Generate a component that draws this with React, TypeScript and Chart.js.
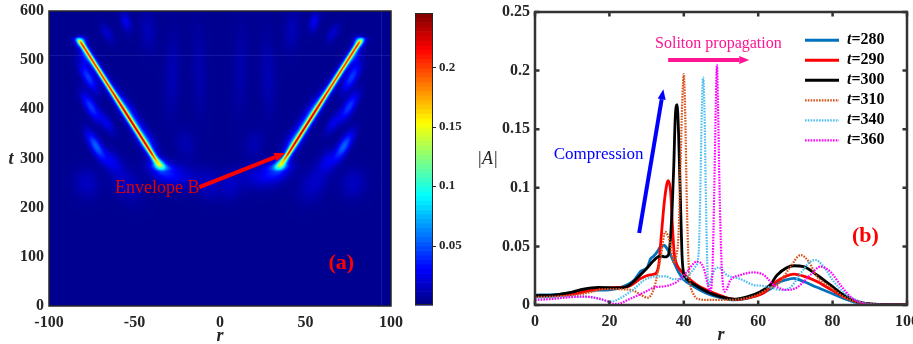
import React, { useEffect, useRef } from "react";
import { Chart, registerables } from "chart.js";

Chart.register(...registerables);

const SERIF = "'Liberation Serif', 'Times New Roman', Times, serif";
const INK = "#262626";

/* ---------------- panel (a): |A|(r, t) map ---------------- */
const MAP_R_TICKS = [-100, -50, 0, 50, 100];
const MAP_T_TICKS = [0, 100, 200, 300, 400, 500, 600];
const CBAR_MAX = 0.2456;
const CBAR_TICKS = [0.05, 0.1, 0.15, 0.2];

const BACKGROUND_LEVEL = 0.004;

// bright soliton track, right branch (the left branch is its mirror image)
const TRACK_FOOT = { r: 36.3, t: 290 };
const TRACK_HEAD = { r: 81.6, t: 537.6 };
const TRACK_T = [274, 282, 290, 300, 310, 340, 360, 420, 480, 528, 536, 542, 548];
const TRACK_PEAK = [0, 0.05, 0.106, 0.171, 0.197, 0.194, 0.205, 0.2, 0.2, 0.198, 0.15, 0.07, 0];
const TRACK_WIDTH = [3, 2.6, 1.5, 1.1, 1.0, 1.0, 1.0, 1.0, 1.0, 1.0, 1.1, 1.4, 1.8];

// radiation lumps around the tracks (right half, mirrored to the left)
const LUMP_R = [72.5, 75.5, 77, 79, 53, 43, 33, 22, 5, 55, 78, 63, 66, 55, 66, 42, 28, 12, 20, 81.5, 35];
const LUMP_T = [325, 405, 465, 505, 392, 335, 275, 262, 245, 250, 250, 295, 372, 578, 555, 560, 470, 480, 330, 539, 286];
const LUMP_LEVEL = [0.05, 0.04, 0.04, 0.022, 0.03, 0.028, 0.03, 0.014, 0.012, 0.013, 0.012, 0.02, 0.02, 0.022, 0.015, 0.01, 0.009, 0.007, 0.008, 0.045, 0.04];
const LUMP_LEN = [6.5, 6.5, 6.5, 4, 10, 6, 6, 8, 6, 8, 6, 5, 5, 4, 4, 8, 16, 18, 6, 2, 2.5];
const LUMP_WID = [2.2, 2.2, 2.2, 1.8, 2.6, 3, 4, 5, 5, 5, 5, 3, 2, 2, 2, 3, 3, 3, 4, 2, 2];
const LUMP_TILT = [60, 60, 60, 60, 57.5, 57.5, 20, 0, 90, 60, 80, 60, 60, 75, 60, 85, 92, 88, 80, 0, 57.5];

// faint grid seams of the simulation output
const SEAM_T = 510;
const SEAM_R = 94;

const ENVELOPE_TEXT = "Envelope B";
const ENVELOPE_TEXT_AT = [-36.7, 240];
const ENVELOPE_ARROW_FROM = [-12.1, 242];
const ENVELOPE_ARROW_TO = [38.2, 311];
const TAG_A_AT = [70.9, 87];

/* ---------------- panel (b): |A|(r) profiles ---------------- */
const PROFILE_R_TICKS = [0, 20, 40, 60, 80, 100];
const AMP_TICKS = [0, 0.05, 0.1, 0.15, 0.2, 0.25];

const R_280 = [0, 5, 10, 15, 20, 23, 26.7, 28.3, 30.3, 31, 32, 33, 33.7, 34.6, 35.9, 37.3, 38.6, 39.9, 42.6, 46.2, 49.8, 53.4, 57, 60.6, 63.2, 65.1, 67.5, 69.6, 72.2, 75.8, 79.4, 83, 86.6, 90, 95, 100];
const A_280 = [0.0085, 0.0088, 0.0105, 0.0125, 0.013, 0.015, 0.0213, 0.0284, 0.0327, 0.039, 0.042, 0.046, 0.0497, 0.051, 0.046, 0.037, 0.028, 0.022, 0.016, 0.0099, 0.0063, 0.0043, 0.0057, 0.0094, 0.0135, 0.0185, 0.0215, 0.0228, 0.02, 0.0151, 0.0105, 0.0057, 0.002, 0.0005, 0.0002, 0.0002];

const R_290 = [0, 5, 10, 15, 17.8, 22, 24.9, 28.5, 30, 31.5, 32.5, 33.3, 34, 34.8, 35.5, 35.9, 36.5, 36.9, 37.4, 38.2, 39, 40.8, 43.5, 46.2, 50.7, 54.3, 57.9, 61.5, 65.1, 69.6, 72.2, 75.8, 79.4, 83, 86.6, 90, 95, 100];
const A_290 = [0.007, 0.0075, 0.009, 0.0125, 0.014, 0.015, 0.0156, 0.0227, 0.025, 0.026, 0.027, 0.035, 0.061, 0.089, 0.104, 0.106, 0.095, 0.07, 0.045, 0.034, 0.03, 0.024, 0.0171, 0.0128, 0.0071, 0.0048, 0.0065, 0.0105, 0.0205, 0.0264, 0.0247, 0.02, 0.0134, 0.0071, 0.0028, 0.0007, 0.0002, 0.0002];

const R_300 = [0, 5, 10, 13, 17, 22, 24.9, 28.3, 30, 31.9, 33.7, 35, 35.9, 36.4, 36.9, 37.3, 37.7, 38.2, 38.6, 39.1, 39.5, 39.9, 40.8, 42.6, 46.2, 49.8, 53.4, 57, 60.6, 63.2, 65.1, 69.6, 72.2, 75.8, 79.4, 83, 86.6, 90.2, 95, 100];
const A_300 = [0.008, 0.0085, 0.011, 0.0135, 0.015, 0.0145, 0.016, 0.0256, 0.031, 0.038, 0.042, 0.041, 0.043, 0.056, 0.085, 0.118, 0.16, 0.171, 0.146, 0.089, 0.044, 0.028, 0.022, 0.0179, 0.0114, 0.0071, 0.005, 0.007, 0.0114, 0.017, 0.0256, 0.0335, 0.0327, 0.0256, 0.0171, 0.0085, 0.0028, 0.0009, 0.0002, 0.0002];

const R_310 = [0, 5, 10, 15, 17.8, 21, 24, 26.7, 28.5, 30.3, 32, 33, 34, 35, 36.4, 37.3, 38, 38.6, 39.1, 39.6, 40, 40.4, 40.8, 41.3, 41.7, 42.5, 43.5, 46.2, 50.7, 55.2, 59.6, 63.2, 65.1, 68.7, 71.4, 73.6, 75.8, 79.4, 83, 86.6, 90, 95, 100];
const A_310 = [0.0068, 0.0072, 0.008, 0.011, 0.0134, 0.0135, 0.0134, 0.012, 0.0085, 0.0062, 0.0142, 0.028, 0.045, 0.0625, 0.052, 0.036, 0.042, 0.061, 0.118, 0.175, 0.197, 0.16, 0.09, 0.035, 0.0185, 0.01, 0.0056, 0.0043, 0.0043, 0.005, 0.0085, 0.0149, 0.0171, 0.0327, 0.0426, 0.037, 0.0242, 0.0151, 0.0071, 0.0025, 0.0006, 0.0002, 0.0002];

const R_340 = [0, 5, 8.8, 12, 15.9, 18, 20.4, 23, 26.7, 29.4, 33, 34.9, 37.3, 39.9, 41.7, 43.1, 44, 44.4, 44.8, 45.2, 45.6, 46, 46.6, 47.3, 48.5, 49.4, 51.6, 55.2, 58.8, 60.6, 63.2, 66, 68.7, 71.4, 74, 75.4, 77.6, 80.3, 83.9, 87.5, 90, 95, 100];
const A_340 = [0.0057, 0.0062, 0.007, 0.0072, 0.0063, 0.0045, 0.0028, 0.006, 0.014, 0.0213, 0.0245, 0.0245, 0.022, 0.0222, 0.027, 0.0327, 0.045, 0.09, 0.16, 0.194, 0.16, 0.08, 0.016, 0.022, 0.031, 0.032, 0.0256, 0.0222, 0.017, 0.0165, 0.0151, 0.0128, 0.0151, 0.027, 0.037, 0.0384, 0.0327, 0.02, 0.0085, 0.0028, 0.0008, 0.0002, 0.0002];

const R_360 = [0, 5, 8.8, 13.3, 17.8, 20, 21.3, 23, 24.9, 28.5, 31, 32, 34.9, 38.2, 40.8, 43.5, 45.3, 46.4, 47.1, 47.7, 48.2, 48.6, 48.9, 49.2, 49.6, 50.1, 50.6, 51.1, 52.5, 55.2, 58.8, 61.5, 64.2, 67.8, 70.5, 74, 76.7, 79.4, 82.1, 84.8, 87.5, 90.2, 95, 100];
const A_360 = [0.0043, 0.0052, 0.0065, 0.0071, 0.005, 0.0025, 0.0009, 0.0015, 0.0043, 0.0094, 0.0135, 0.015, 0.016, 0.0199, 0.028, 0.037, 0.032, 0.018, 0.012, 0.03, 0.1, 0.17, 0.205, 0.17, 0.1, 0.04, 0.015, 0.0114, 0.021, 0.0256, 0.0278, 0.0256, 0.0171, 0.0128, 0.0151, 0.0256, 0.0327, 0.0284, 0.0171, 0.0071, 0.002, 0.0003, 0.0001, 0.0001];

const TIME_LABELS = ["280", "290", "300", "310", "340", "360"];
const PROFILE_R = [R_280, R_290, R_300, R_310, R_340, R_360];
const PROFILE_A = [A_280, A_290, A_300, A_310, A_340, A_360];
const LINE_COLORS = ["#0072BD", "#FF0000", "#000000", "#D95319", "#4DBEEE", "#FF00FF"];
const LINE_DOTTED = [false, false, false, true, true, true];

const PROPAGATION_TEXT = "Soliton propagation";
const PROPAGATION_TEXT_AT = [49.3, 0.2225];
const PROPAGATION_FROM = [35.8, 0.209];
const PROPAGATION_TO = [57.6, 0.209];
const COMPRESSION_TEXT = "Compression";
const COMPRESSION_TEXT_AT = [17.1, 0.128];
const COMPRESSION_FROM = [28.0, 0.0614];
const COMPRESSION_TO = [34.5, 0.184];
const TAG_B_AT = [88.8, 0.059];

/* ---------------- helpers ---------------- */
function jet(v: number): [number, number, number] {
  const c = (q: number) => (q < 0 ? 0 : q > 1 ? 1 : q);
  return [
    c(Math.min(4 * v - 1.5, -4 * v + 4.5)),
    c(Math.min(4 * v - 0.5, -4 * v + 3.5)),
    c(Math.min(4 * v + 0.5, -4 * v + 2.5)),
  ];
}

function lerpTable(xs: number[], ys: number[], x: number): number {
  if (x <= xs[0]) return ys[0];
  const n = xs.length;
  if (x >= xs[n - 1]) return ys[n - 1];
  let i = 1;
  while (xs[i] < x) i++;
  const f = (x - xs[i - 1]) / (xs[i] - xs[i - 1]);
  return ys[i - 1] + f * (ys[i] - ys[i - 1]);
}

function arrow(ctx: CanvasRenderingContext2D, x1: number, y1: number, x2: number, y2: number,
  color: string, width: number, headLen: number, headW: number) {
  const a = Math.atan2(y2 - y1, x2 - x1);
  const bx = x2 - headLen * Math.cos(a);
  const by = y2 - headLen * Math.sin(a);
  ctx.save();
  ctx.strokeStyle = color;
  ctx.fillStyle = color;
  ctx.lineWidth = width;
  ctx.lineCap = "butt";
  ctx.beginPath();
  ctx.moveTo(x1, y1);
  ctx.lineTo(bx, by);
  ctx.stroke();
  ctx.beginPath();
  ctx.moveTo(x2, y2);
  ctx.lineTo(bx + (headW / 2) * Math.sin(a), by - (headW / 2) * Math.cos(a));
  ctx.lineTo(bx - (headW / 2) * Math.sin(a), by + (headW / 2) * Math.cos(a));
  ctx.closePath();
  ctx.fill();
  ctx.restore();
}

function fixedTicks(values: number[]) {
  return (scale: any) => {
    scale.ticks = values.map((v) => ({ value: v }));
  };
}

function fitWidth(w: number) {
  return (scale: any) => {
    scale.width = w;
    scale.paddingTop = 0;
    scale.paddingBottom = 0;
  };
}

function fitHeight(h: number) {
  return (scale: any) => {
    scale.height = h;
    scale.paddingLeft = 0;
    scale.paddingRight = 0;
  };
}

const plainNumber = (v: number | string) => String(+Number(v).toFixed(6));
const tickFont = (size: number) => ({ family: SERIF, size, weight: "bold" as const });

/* ---------------- field of panel (a) ---------------- */
const LUMP_COS = LUMP_TILT.map((d) => Math.cos((d * Math.PI) / 180));
const LUMP_SIN = LUMP_TILT.map((d) => Math.sin((d * Math.PI) / 180));
const LUMP_REACH = LUMP_LEN.map((l, k) => 4 * Math.max(l, LUMP_WID[k]));
const TRACK_SLOPE = (TRACK_HEAD.r - TRACK_FOOT.r) / (TRACK_HEAD.t - TRACK_FOOT.t);

function fieldAt(r: number, t: number, peak: number, width: number, centre: number, aspect: number) {
  const ar = Math.abs(r);
  let v = BACKGROUND_LEVEL;
  if (peak > 0) v += peak / Math.cosh((ar - centre) / width);
  for (let k = 0; k < LUMP_R.length; k++) {
    const dx = ar - LUMP_R[k];
    const dy = (t - LUMP_T[k]) * aspect;
    const reach = LUMP_REACH[k];
    if (dx > reach || dx < -reach || dy > reach || dy < -reach) continue;
    const u = dx * LUMP_COS[k] + dy * LUMP_SIN[k];
    const w = -dx * LUMP_SIN[k] + dy * LUMP_COS[k];
    const L = LUMP_LEN[k], W = LUMP_WID[k];
    v += LUMP_LEVEL[k] * Math.exp(-0.5 * ((u * u) / (L * L) + (w * w) / (W * W)));
  }
  return v;
}

const mapLayer = {
  id: "mapLayer",
  beforeDatasetsDraw(chart: any) {
    const { ctx, chartArea: ca, scales } = chart;
    const xs = scales.x, ys = scales.y;
    const x0 = Math.round(ca.left), y0 = Math.round(ca.top);
    const w = Math.round(ca.right) - x0, h = Math.round(ca.bottom) - y0;
    const pxPerR = Math.abs(xs.getPixelForValue(1) - xs.getPixelForValue(0));
    const pxPerT = Math.abs(ys.getPixelForValue(0) - ys.getPixelForValue(1));
    const aspect = pxPerT / pxPerR;
    const SS = 2;
    const colR: number[] = [];
    for (let i = 0; i < w * SS; i++) colR.push(xs.getValueForPixel(x0 + (i + 0.5) / SS));
    const off = document.createElement("canvas");
    off.width = w;
    off.height = h;
    const octx = off.getContext("2d")!;
    const img = octx.createImageData(w, h);
    const d = img.data;
    for (let j = 0; j < h; j++) {
      const rowT: number[] = [], rowPeak: number[] = [], rowW: number[] = [], rowC: number[] = [];
      for (let s = 0; s < SS; s++) {
        const t = ys.getValueForPixel(y0 + j + (s + 0.5) / SS);
        rowT.push(t);
        const inside = t > TRACK_T[0] && t < TRACK_T[TRACK_T.length - 1];
        rowPeak.push(inside ? lerpTable(TRACK_T, TRACK_PEAK, t) : 0);
        rowW.push(lerpTable(TRACK_T, TRACK_WIDTH, t));
        rowC.push(TRACK_FOOT.r + (t - TRACK_FOOT.t) * TRACK_SLOPE);
      }
      for (let i = 0; i < w; i++) {
        let rr = 0, gg = 0, bb = 0;
        for (let s = 0; s < SS; s++) {
          for (let q = 0; q < SS; q++) {
            const v = fieldAt(colR[i * SS + q], rowT[s], rowPeak[s], rowW[s], rowC[s], aspect);
            const c = jet(Math.min(1, v / CBAR_MAX));
            rr += c[0]; gg += c[1]; bb += c[2];
          }
        }
        const n = SS * SS;
        const p = (j * w + i) * 4;
        d[p] = (rr / n) * 255;
        d[p + 1] = (gg / n) * 255;
        d[p + 2] = (bb / n) * 255;
        d[p + 3] = 255;
      }
    }
    octx.putImageData(img, 0, 0);
    ctx.save();
    ctx.drawImage(off, x0, y0);
    // faint seams
    ctx.strokeStyle = "rgba(140,150,255,0.15)";
    ctx.lineWidth = 1;
    ctx.beginPath();
    const sy = Math.round(ys.getPixelForValue(SEAM_T)) + 0.5;
    ctx.moveTo(ca.left, sy);
    ctx.lineTo(ca.right, sy);
    const sx = Math.round(xs.getPixelForValue(SEAM_R)) + 0.5;
    ctx.moveTo(sx, ca.top);
    ctx.lineTo(sx, ca.bottom);
    ctx.stroke();
    ctx.restore();
  },
  afterDraw(chart: any) {
    const { ctx, chartArea: ca, scales } = chart;
    const xs = scales.x, ys = scales.y;
    const P = (p: number[]) => [xs.getPixelForValue(p[0]), ys.getPixelForValue(p[1])];
    ctx.save();
    ctx.strokeStyle = INK;
    ctx.lineWidth = 1.5;
    ctx.strokeRect(ca.left, ca.top, ca.right - ca.left, ca.bottom - ca.top);
    const [ax1, ay1] = P(ENVELOPE_ARROW_FROM);
    const [ax2, ay2] = P(ENVELOPE_ARROW_TO);
    arrow(ctx, ax1, ay1, ax2, ay2, "#FF0000", 4, 11, 9);
    ctx.fillStyle = "#E00000";
    ctx.font = `18px ${SERIF}`;
    ctx.textAlign = "center";
    ctx.textBaseline = "middle";
    const [ex, ey] = P(ENVELOPE_TEXT_AT);
    ctx.fillText(ENVELOPE_TEXT, ex, ey);
    ctx.fillStyle = "#FF0000";
    ctx.font = `bold 22px ${SERIF}`;
    const [tx, ty] = P(TAG_A_AT);
    ctx.fillText("(a)", tx, ty);
    // axis titles
    ctx.fillStyle = INK;
    ctx.font = `italic bold 18px ${SERIF}`;
    ctx.fillText("t", ca.left - 38, (ca.top + ca.bottom) / 2 + 1);
    ctx.textBaseline = "alphabetic";
    ctx.fillText("r", (ca.left + ca.right) / 2, ca.bottom + 35);
    ctx.restore();
  },
};

const colourBar = {
  id: "colourBar",
  beforeDatasetsDraw(chart: any) {
    const { ctx, chartArea: ca, scales } = chart;
    const ys = scales.y;
    const levels = 64;
    ctx.save();
    for (let k = 0; k < levels; k++) {
      const lo = (k / levels) * CBAR_MAX, hi = ((k + 1) / levels) * CBAR_MAX;
      const c = jet((k + 0.5) / levels);
      ctx.fillStyle = `rgb(${Math.round(c[0] * 255)},${Math.round(c[1] * 255)},${Math.round(c[2] * 255)})`;
      const yTop = ys.getPixelForValue(hi), yBot = ys.getPixelForValue(lo);
      ctx.fillRect(ca.left, yTop, ca.right - ca.left, yBot - yTop + 0.6);
    }
    ctx.restore();
  },
  afterDraw(chart: any) {
    const { ctx, chartArea: ca, scales } = chart;
    const ys = scales.y;
    ctx.save();
    ctx.strokeStyle = INK;
    ctx.lineWidth = 1;
    ctx.strokeRect(ca.left + 0.5, ca.top + 0.5, ca.right - ca.left - 1, ca.bottom - ca.top - 1);
    ctx.beginPath();
    for (const v of CBAR_TICKS) {
      const y = Math.round(ys.getPixelForValue(v)) + 0.5;
      ctx.moveTo(ca.right, y);
      ctx.lineTo(ca.right + 3, y);
    }
    ctx.stroke();
    ctx.restore();
  },
};

/* ---------------- decorations of panel (b) ---------------- */
const profileDecor = {
  id: "profileDecor",
  afterDraw(chart: any) {
    const { ctx, chartArea: ca, scales } = chart;
    const xs = scales.x, ys = scales.y;
    const P = (p: number[]) => [xs.getPixelForValue(p[0]), ys.getPixelForValue(p[1])];
    ctx.save();
    // box with inward ticks on all sides
    ctx.strokeStyle = "#333333";
    ctx.lineWidth = 2.5;
    ctx.strokeRect(ca.left, ca.top, ca.right - ca.left, ca.bottom - ca.top);
    ctx.beginPath();
    const len = 4.5;
    for (const v of PROFILE_R_TICKS) {
      const x = xs.getPixelForValue(v);
      ctx.moveTo(x, ca.bottom);
      ctx.lineTo(x, ca.bottom - len);
      ctx.moveTo(x, ca.top);
      ctx.lineTo(x, ca.top + len);
    }
    for (const v of AMP_TICKS) {
      const y = ys.getPixelForValue(v);
      ctx.moveTo(ca.left, y);
      ctx.lineTo(ca.left + len, y);
      ctx.moveTo(ca.right, y);
      ctx.lineTo(ca.right - len, y);
    }
    ctx.stroke();

    // legend
    for (let i = 0; i < TIME_LABELS.length; i++) {
      const y = ca.top + 28.3 + i * 20;
      ctx.strokeStyle = LINE_COLORS[i];
      ctx.lineWidth = LINE_DOTTED[i] ? 2.2 : 3;
      ctx.setLineDash(LINE_DOTTED[i] ? [1.6, 1.2] : []);
      ctx.beginPath();
      ctx.moveTo(ca.right - 102, y);
      ctx.lineTo(ca.right - 68, y);
      ctx.stroke();
      ctx.setLineDash([]);
      ctx.fillStyle = "#000000";
      ctx.textAlign = "left";
      ctx.textBaseline = "middle";
      let x = ca.right - 60;
      ctx.font = `italic bold 16px ${SERIF}`;
      ctx.fillText("t", x, y);
      x += ctx.measureText("t").width;
      ctx.font = `bold 16px ${SERIF}`;
      ctx.fillText("=" + TIME_LABELS[i], x, y);
    }

    // annotations
    const [p1x, p1y] = P(PROPAGATION_FROM);
    const [p2x, p2y] = P(PROPAGATION_TO);
    arrow(ctx, p1x, p1y, p2x, p2y, "#FF1493", 4, 10, 8);
    const [c1x, c1y] = P(COMPRESSION_FROM);
    const [c2x, c2y] = P(COMPRESSION_TO);
    arrow(ctx, c1x, c1y, c2x, c2y, "#0000FF", 4, 10, 8);
    ctx.textAlign = "center";
    ctx.textBaseline = "middle";
    ctx.font = `16px ${SERIF}`;
    ctx.fillStyle = "#FF1493";
    const [ptx, pty] = P(PROPAGATION_TEXT_AT);
    ctx.fillText(PROPAGATION_TEXT, ptx, pty);
    ctx.font = `17px ${SERIF}`;
    ctx.fillStyle = "#0000FF";
    const [cqx, cqy] = P(COMPRESSION_TEXT_AT);
    ctx.fillText(COMPRESSION_TEXT, cqx, cqy);
    ctx.font = `bold 22px ${SERIF}`;
    ctx.fillStyle = "#FF0000";
    const [bx, by] = P(TAG_B_AT);
    ctx.fillText("(b)", bx, by);

    // axis titles
    ctx.fillStyle = INK;
    ctx.font = `italic 18px ${SERIF}`;
    ctx.fillText("|A|", ca.left - 47.5, (ca.top + ca.bottom) / 2 + 1);
    ctx.font = `italic bold 18px ${SERIF}`;
    ctx.textBaseline = "alphabetic";
    ctx.fillText("r", (ca.left + ca.right) / 2, ca.bottom + 35);
    ctx.restore();
  },
};

/* ---------------- chart builders ---------------- */
function buildMap(canvas: HTMLCanvasElement) {
  return new Chart(canvas, {
    type: "scatter",
    data: { datasets: [] },
    options: {
      animation: false,
      responsive: false,
      events: [],
      layout: { padding: { left: 0, right: 69, top: 11, bottom: 0 } },
      plugins: { legend: { display: false }, tooltip: { enabled: false } },
      scales: {
        x: {
          type: "linear", min: -100, max: 100,
          afterBuildTicks: fixedTicks(MAP_R_TICKS),
          afterFit: fitHeight(38),
          grid: { display: false, drawTicks: false },
          border: { display: false },
          ticks: { font: tickFont(16), color: INK, padding: 7, maxRotation: 0, autoSkip: false, callback: plainNumber },
        },
        y: {
          type: "linear", min: 0, max: 600,
          afterBuildTicks: fixedTicks(MAP_T_TICKS),
          afterFit: fitWidth(49),
          grid: { display: false, drawTicks: false },
          border: { display: false },
          ticks: { font: tickFont(16), color: INK, padding: 5, autoSkip: false, callback: plainNumber },
        },
      },
    },
    plugins: [mapLayer],
  } as any);
}

function buildColourBar(canvas: HTMLCanvasElement) {
  return new Chart(canvas, {
    type: "scatter",
    data: { datasets: [] },
    options: {
      animation: false,
      responsive: false,
      events: [],
      layout: { padding: { left: 15, right: 0, top: 13, bottom: 39 } },
      plugins: { legend: { display: false }, tooltip: { enabled: false } },
      scales: {
        x: { type: "linear", min: 0, max: 1, display: false },
        y: {
          type: "linear", position: "right", min: 0, max: CBAR_MAX,
          afterBuildTicks: fixedTicks(CBAR_TICKS),
          afterFit: fitWidth(47),
          grid: { display: false, drawTicks: false },
          border: { display: false },
          ticks: { font: tickFont(13), color: INK, padding: 6, autoSkip: false, callback: plainNumber },
        },
      },
    },
    plugins: [colourBar],
  } as any);
}

function buildProfiles(canvas: HTMLCanvasElement) {
  const datasets = TIME_LABELS.map((lab, i) => ({
    label: "t=" + lab,
    data: PROFILE_R[i].map((r, k) => ({ x: r, y: PROFILE_A[i][k] })),
    showLine: true,
    borderColor: LINE_COLORS[i],
    backgroundColor: LINE_COLORS[i],
    borderWidth: LINE_DOTTED[i] ? 2.2 : 2.8,
    borderDash: LINE_DOTTED[i] ? [1.6, 1.2] : [],
    pointRadius: 0,
    cubicInterpolationMode: "monotone",
    order: TIME_LABELS.length - 1 - i,
  }));
  return new Chart(canvas, {
    type: "scatter",
    data: { datasets },
    options: {
      animation: false,
      responsive: false,
      events: [],
      layout: { padding: { left: 0, right: 6, top: 12, bottom: 0 } },
      plugins: { legend: { display: false }, tooltip: { enabled: false } },
      scales: {
        x: {
          type: "linear", min: 0, max: 100,
          afterBuildTicks: fixedTicks(PROFILE_R_TICKS),
          afterFit: fitHeight(39),
          grid: { display: false, drawTicks: false },
          border: { display: false },
          ticks: { font: tickFont(16), color: INK, padding: 7, maxRotation: 0, autoSkip: false, callback: plainNumber },
        },
        y: {
          type: "linear", min: 0, max: 0.25,
          afterBuildTicks: fixedTicks(AMP_TICKS),
          afterFit: fitWidth(75),
          grid: { display: false, drawTicks: false },
          border: { display: false },
          ticks: { font: tickFont(16), color: INK, padding: 5, autoSkip: false, callback: plainNumber },
        },
      },
    },
    plugins: [profileDecor],
  } as any);
}

export default function App() {
  const mapRef = useRef<HTMLCanvasElement>(null);
  const barRef = useRef<HTMLCanvasElement>(null);
  const profRef = useRef<HTMLCanvasElement>(null);

  useEffect(() => {
    const charts = [
      buildMap(mapRef.current!),
      buildColourBar(barRef.current!),
      buildProfiles(profRef.current!),
    ];
    return () => charts.forEach((c) => c.destroy());
  }, []);

  return (
    <div style={{ position: "absolute", left: 0, top: 0, width: 913, height: 344, background: "#ffffff", overflow: "hidden" }}>
      <canvas ref={mapRef} width={460} height={344} style={{ position: "absolute", left: 0, top: 0 }} />
      <canvas ref={barRef} width={80} height={344} style={{ position: "absolute", left: 400, top: 0 }} />
      <canvas ref={profRef} width={453} height={344} style={{ position: "absolute", left: 460, top: 0 }} />
    </div>
  );
}
